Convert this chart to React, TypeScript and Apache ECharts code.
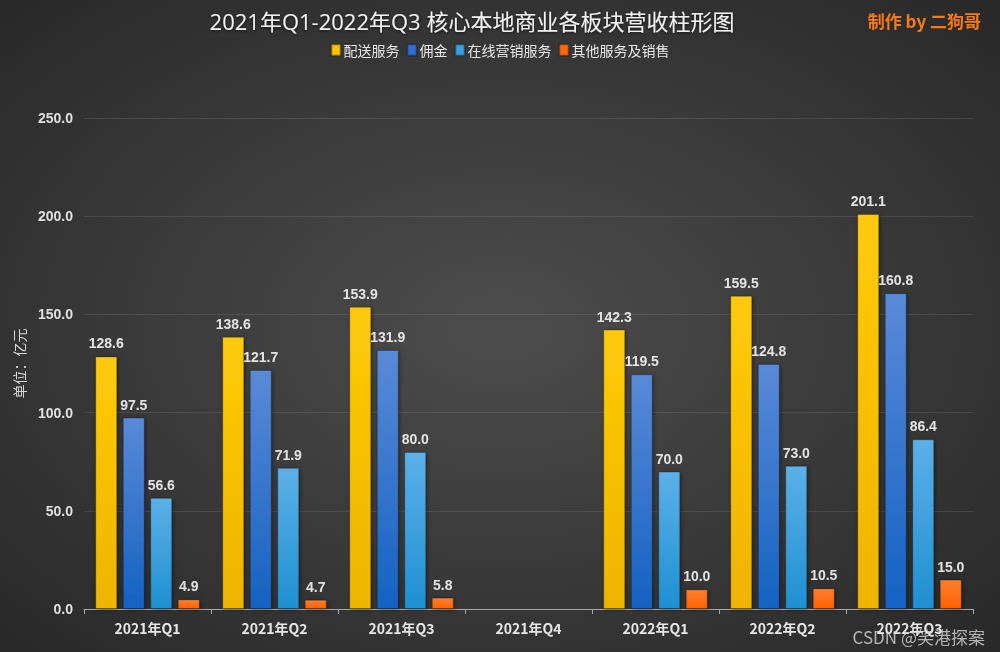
import React, { useEffect, useRef } from "react";
import * as echarts from "echarts";

const categories = ["2021年Q1", "2021年Q2", "2021年Q3", "2021年Q4", "2022年Q1", "2022年Q2", "2022年Q3"];
const seriesNames = ["配送服务", "佣金", "在线营销服务", "其他服务及销售"];
const delivery = [128.6, 138.6, 153.9, null, 142.3, 159.5, 201.1];
const commission = [97.5, 121.7, 131.9, null, 119.5, 124.8, 160.8];
const marketing = [56.6, 71.9, 80.0, null, 70.0, 73.0, 86.4];
const others = [4.9, 4.7, 5.8, null, 10.0, 10.5, 15.0];

const palette = [
  ["#ffca08", "#efb400"],
  ["#5a8ad8", "#1462c2"],
  ["#5cb0e8", "#1e90d2"],
  ["#ff7f30", "#ff6200"],
];
const legendColors = ["#ffc400", "#2f6fd0", "#3aa0e0", "#ff6a10"];

export default function App() {
  const ref = useRef<HTMLDivElement>(null);
  useEffect(() => {
    if (!ref.current) return;
    const chart = echarts.init(ref.current, undefined, { renderer: "svg" });
    const dataSets = [delivery, commission, marketing, others];
    chart.setOption({
      animation: false,
      backgroundColor: {
        type: "radial",
        x: 0.5,
        y: 0.5,
        r: 0.75,
        colorStops: [
          { offset: 0, color: "#4d4d4d" },
          { offset: 1, color: "#262626" },
        ],
      },
      title: [
        {
          text: "2021年Q1-2022年Q3 核心本地商业各板块营收柱形图",
          left: 467,
          textAlign: "center",
          top: 5,
          textStyle: {
            color: "#f2f2f2",
            fontSize: 22,
            fontWeight: "normal",
            fontFamily: "Open Sans, Noto Sans CJK SC",
            textShadowColor: "rgba(0,0,0,0.6)",
            textShadowBlur: 3,
            textShadowOffsetY: 1,
          },
        },
        {
          text: "制作 by 二狗哥",
          right: 14,
          top: 7,
          textStyle: {
            color: "#ff7a12",
            fontSize: 17,
            fontWeight: "bold",
            fontFamily: "Noto Sans CJK SC",
          },
        },
      ],
      legend: {
        top: 38,
        left: "center",
        itemWidth: 9,
        itemHeight: 11,
        itemGap: 7,
        icon: "rect",
        textStyle: { color: "#e8e8e8", fontSize: 14, fontFamily: "Noto Sans CJK SC", padding: [0, 0, 0, -2] },
        data: seriesNames.map((n, i) => ({ name: n, itemStyle: { color: legendColors[i] } })),
      },
      grid: { left: 84, right: 27, top: 118, bottom: 43, containLabel: false },
      xAxis: {
        type: "category",
        data: categories,
        axisLine: { lineStyle: { color: "#a8a8a8" } },
        axisTick: { show: true, lineStyle: { color: "#a8a8a8" }, length: 5 },
        axisLabel: {
          color: "#e6e6e6",
          fontSize: 14,
          fontWeight: "bold",
          margin: 12,
          fontFamily: "Noto Sans CJK SC",
        },
      },
      yAxis: {
        type: "value",
        min: 0,
        max: 250,
        interval: 50,
        name: "单位：亿元",
        nameLocation: "middle",
        nameGap: 58,
        nameTextStyle: { color: "#d8d8d8", fontSize: 14, fontFamily: "Noto Sans CJK SC" },
        axisLine: { show: false },
        axisTick: { show: false },
        axisLabel: {
          color: "#e0e0e0",
          fontSize: 14,
          fontWeight: "bold",
          margin: 11,
          formatter: (v: number) => v.toFixed(1),
          fontFamily: "Helvetica, Arial, Liberation Sans, sans-serif",
        },
        splitLine: { lineStyle: { color: "rgba(255,255,255,0.1)" } },
      },
      series: seriesNames.map((name, i) => ({
        name,
        type: "bar",
        data: dataSets[i],
        barWidth: 22,
        barGap: "25%",
        itemStyle: {
          color: {
            type: "linear",
            x: 0,
            y: 0,
            x2: 0,
            y2: 1,
            colorStops: [
              { offset: 0, color: palette[i][0] },
              { offset: 1, color: palette[i][1] },
            ],
          },
          borderColor: "rgba(0,0,0,0.25)",
          borderWidth: 1,
          shadowColor: "rgba(0,0,0,0.45)",
          shadowBlur: 4,
          shadowOffsetX: 1,
          shadowOffsetY: 1,
        },
        label: {
          show: true,
          position: "top",
          distance: 6,
          color: "#e4e4e4",
          fontSize: 14,
          fontWeight: "bold",
          fontFamily: "Helvetica, Arial, Liberation Sans, sans-serif",
          formatter: (p: any) => (p.value == null ? "" : Number(p.value).toFixed(1)),
        },
      })),
      graphic: [
        {
          type: "text",
          right: 15,
          bottom: 7,
          style: {
            text: "CSDN @笑港探案",
            fill: "rgba(215,215,215,0.8)",
            fontSize: 17,
            fontFamily: "Noto Sans CJK SC",
          },
        },
      ],
    });
    return () => chart.dispose();
  }, []);
  return <div ref={ref} style={{ width: 1000, height: 652, position: "fixed", left: 0, top: 0 }} />;
}
